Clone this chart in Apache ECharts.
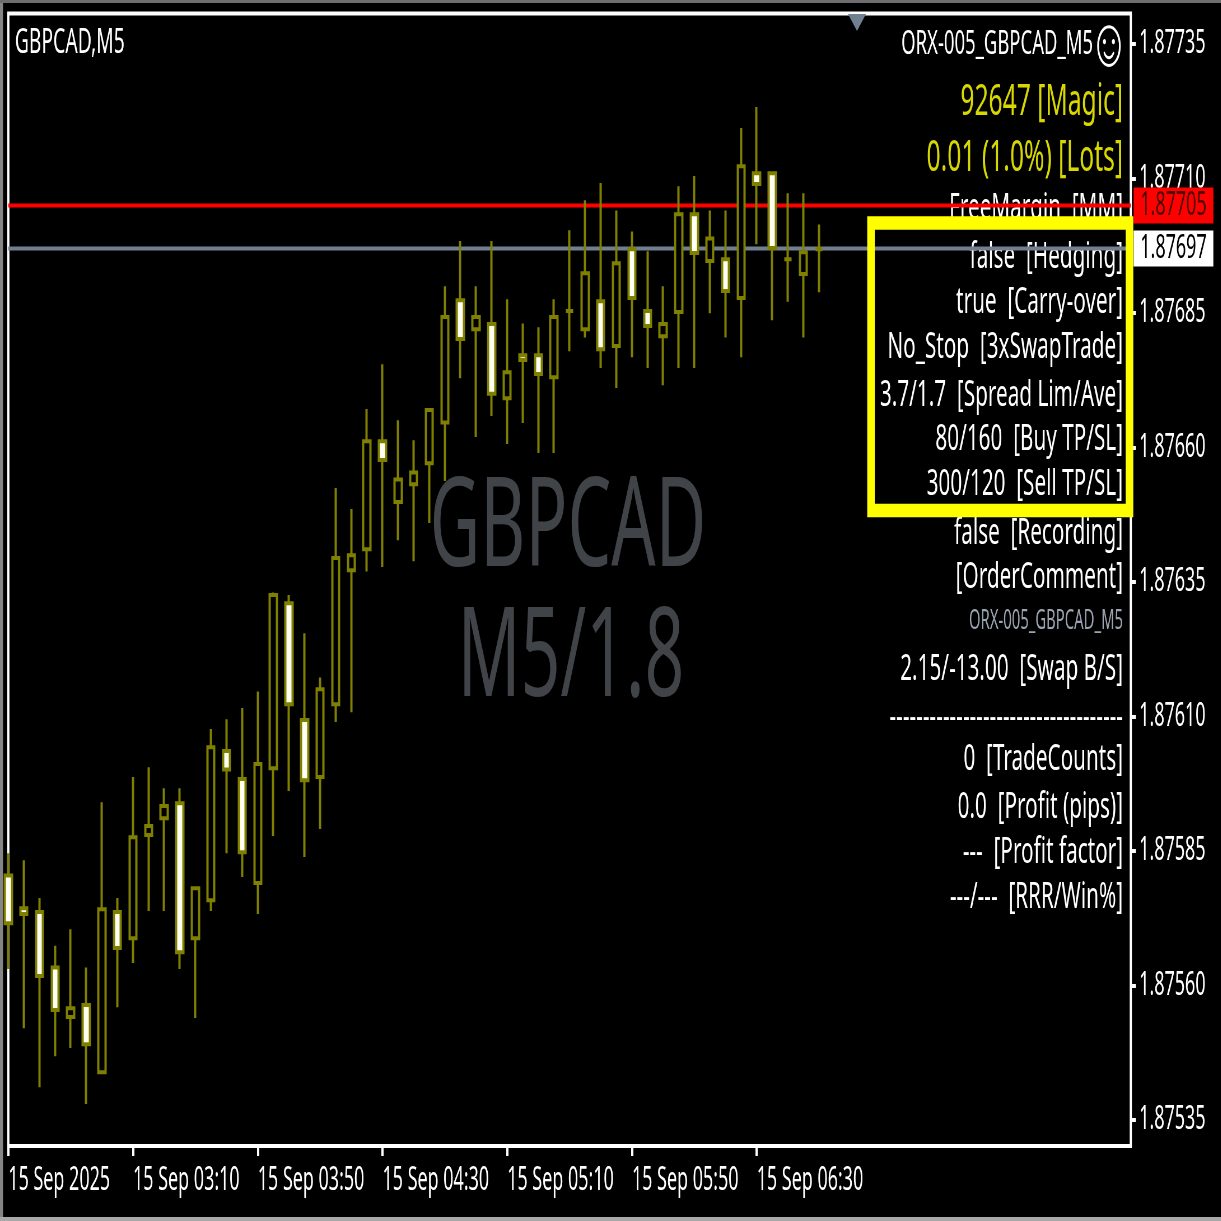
<!DOCTYPE html>
<html>
<head>
<meta charset="utf-8">
<title>GBPCAD,M5</title>
<script src="https://cdn.jsdelivr.net/npm/echarts@6/dist/echarts.min.js"></script>
<style>
html,body{margin:0;padding:0;background:#000;overflow:hidden;width:1221px;height:1221px}
/* the reference is a screenshot stretched tall, so the whole chart is squeezed sideways */
#main{width:2180px;height:1221px;transform:scaleX(0.56);transform-origin:0 0;filter:blur(0.5px)}
</style>
</head>
<body>
<div id="main"></div>
<script>
var S=0.56;
var FONT='"Noto Sans"';

var opens=[1.875805,1.875744,1.875737,1.875634,1.875542,1.875564,1.875439,1.875737,1.875688,1.875880,
1.875911,1.875939,1.875688,1.875759,1.876036,1.875984,1.875791,1.876004,1.876311,1.876094,
1.875988,1.876123,1.876372,1.876411,1.876612,1.876499,1.876532,1.876571,1.876647,1.876874,
1.876820,1.876830,1.876692,1.876772,1.876772,1.876731,1.876854,1.876820,1.876872,1.876789,
1.876969,1.876854,1.876807,1.876852,1.877034,1.876947,1.876950,1.876878,1.877110,1.877110,
1.876950,1.876923,1.876969];
var closes=[1.875716,1.875733,1.875618,1.875555,1.875558,1.875491,1.875742,1.875670,1.875876,1.875897,
1.875934,1.875662,1.875781,1.876043,1.876002,1.875848,1.876012,1.876326,1.876123,1.875982,
1.876151,1.876395,1.876400,1.876612,1.876577,1.876541,1.876554,1.876670,1.876843,1.876802,
1.876843,1.876700,1.876740,1.876763,1.876737,1.876843,1.876854,1.876924,1.876783,1.876943,
1.876878,1.876826,1.876830,1.877034,1.876962,1.876989,1.876891,1.877123,1.877090,1.876971,
1.876950,1.876963,1.876969];
var highs=[1.875846,1.875833,1.875763,1.875674,1.875705,1.875634,1.875941,1.875763,1.875988,1.876006,
1.875967,1.875967,1.875781,1.876077,1.876095,1.876116,1.876147,1.876331,1.876326,1.876255,
1.876173,1.876525,1.876486,1.876672,1.876755,1.876651,1.876614,1.876670,1.876900,1.876984,
1.876900,1.876984,1.876876,1.876831,1.876824,1.876876,1.877004,1.877060,1.877092,1.877041,
1.877002,1.876965,1.876900,1.877086,1.877105,1.877041,1.877041,1.877194,1.877233,1.877110,
1.877073,1.877073,1.877015];
var lows=[1.875631,1.875521,1.875411,1.875469,1.875484,1.875380,1.875439,1.875560,1.875642,1.875739,
1.875739,1.875631,1.875540,1.875739,1.875846,1.875802,1.875733,1.875878,1.875962,1.875839,
1.875891,1.876090,1.876108,1.876370,1.876378,1.876428,1.876389,1.876460,1.876538,1.876729,
1.876620,1.876659,1.876607,1.876646,1.876590,1.876590,1.876779,1.876805,1.876748,1.876711,
1.876768,1.876748,1.876716,1.876748,1.876748,1.876850,1.876805,1.876768,1.876978,1.876837,
1.876871,1.876805,1.876889];

var priceTicks=[1.87535,1.87560,1.87585,1.87610,1.87635,1.87660,1.87685,1.87710,1.87735];
var timeTicks=['15 Sep 2025','15 Sep 03:10','15 Sep 03:50','15 Sep 04:30','15 Sep 05:10','15 Sep 05:50','15 Sep 06:30'];
var askPrice=1.87705;
var bidPrice=1.87697;

var panelText=['ORX-005_GBPCAD_M5','92647 [Magic]','0.01 (1.0%) [Lots]','FreeMargin  [MM]','false  [Hedging]',
'true  [Carry-over]','No_Stop  [3xSwapTrade]','3.7/1.7  [Spread Lim/Ave]','80/160  [Buy TP/SL]','300/120  [Sell TP/SL]',
'false  [Recording]','[OrderComment]','ORX-005_GBPCAD_M5','2.15/-13.00  [Swap B/S]','-----------------------------------',
'0  [TradeCounts]','0.0  [Profit (pips)]','---  [Profit factor]','---/---  [RRR/Win%]'];
var panelY=[45,102,158,208,257,302,347,395,439,484,533,577,621,669,717,759,807,852,897];

// category axis: every 8th bar carries a time label, 73 slots so the right side stays empty
var categories=[];
for(var i=0;i<73;i++){
    categories.push(i%8==0&&timeTicks[i/8]?timeTicks[i/8]:'');
}
var candles=[];
for(var j=0;j<opens.length;j++){
    candles.push([opens[j],closes[j],lows[j],highs[j]]);
}
function hasTime(index){
    return categories[index]!='';
}

var graphics=[];
function addText(text,x,y,size,color,align,z){
    graphics.push({type:'text',z:z,silent:true,style:{text:text,x:x/S,y:y,align:align,verticalAlign:'middle',fill:color,font:size+'px '+FONT}});
}
function addRect(x,y,w,h,color){
    graphics.push({type:'rect',z:60,silent:true,shape:{x:x/S,y:y,width:w/S,height:h},style:{fill:color}});
}

// watermark behind the candles
addText('GBPCAD',568,531,124,'#404347','center',0);
addText('M5/1.8',571,661,124,'#404347','center',0);

// info panel on the right
for(var n=0;n<panelText.length;n++){
    var color='#ffffff',size=37,right=1123;
    if(n==1||n==2){color='#d8d800';size=44;}
    if(n==12){color='#9aa3b0';size=26.5;}
    if(n==0){right=1093;size=33;}
    addText(panelText[n],right,panelY[n],size,color,'right',0);
}
addText('\u263A',1129,46,70,'#ffffff','right',0);

// highlight box drawn over the screenshot
graphics.push({type:'rect',z:50,silent:true,shape:{x:871/S,y:223,width:258.5/S,height:287.5},style:{fill:'none',stroke:'#ffff00',lineWidth:13.5}});
// shift marker at the top of the chart
graphics.push({type:'polygon',z:5,silent:true,shape:{points:[[848/S,14],[866/S,14],[857/S,31]]},style:{fill:'#708090'}});
// window edges
addRect(0,0,3,1221,'#858585');
addRect(0,0,1221,3,'#6e6e6e');
addRect(0,1217,1221,4,'#a8a8a8');

function priceLine(price,lineColor,textColor,boxColor){
    return {
        type:'line',
        z:1,
        silent:true,
        showSymbol:false,
        data:[[0,price],[72,price]],
        lineStyle:{color:lineColor,width:4},
        endLabel:{
            show:true,
            distance:5,
            formatter:price.toFixed(5),
            color:textColor,
            backgroundColor:boxColor,
            fontFamily:FONT,
            fontSize:32,
            lineHeight:36,
            padding:[0,12]
        }
    };
}

var myChart=echarts.init(document.getElementById('main'));
var option={
    animation:false,
    backgroundColor:'#000',
    title:{
        text:'GBPCAD,M5',
        left:12/S,
        top:21,
        textStyle:{color:'#fff',fontFamily:FONT,fontSize:34.5,fontWeight:'normal'}
    },
    grid:{
        show:true,
        left:8.3/S,
        right:(1221-1131)/S,
        top:13.5,
        bottom:1221-1146,
        borderColor:'#fff',
        borderWidth:4,
        backgroundColor:'transparent'
    },
    xAxis:{
        type:'category',
        data:categories,
        boundaryGap:false,
        axisLine:{show:false},
        axisTick:{show:true,interval:hasTime,length:10,lineStyle:{color:'#fff',width:4}},
        axisLabel:{show:true,interval:hasTime,color:'#fff',fontFamily:FONT,fontSize:32,align:'left',margin:19},
        splitLine:{show:false}
    },
    yAxis:{
        type:'value',
        position:'right',
        min:1.875302,
        max:1.877407,
        axisLine:{show:false},
        axisTick:{show:true,length:9,customValues:priceTicks,lineStyle:{color:'#fff',width:4}},
        axisLabel:{show:true,margin:15,color:'#fff',fontFamily:FONT,fontSize:32,customValues:priceTicks,padding:[8,0,0,0],
            formatter:function(v){return v.toFixed(5);}},
        splitLine:{show:false}
    },
    series:[
        priceLine(bidPrice,'#708090','#000','#fff'),
        priceLine(askPrice,'#ff0000','#4a0800','#ff0000'),
        {
            type:'candlestick',
            z:3,
            data:candles,
            barWidth:13,
            clip:true,
            itemStyle:{
                color:'#000',
                color0:'#fffff4',
                colorDoji:'#808000',
                borderColor:'#808000',
                borderColor0:'#808000',
                borderColorDoji:'#808000',
                borderWidth:4
            }
        }
    ],
    graphic:graphics
};
myChart.setOption(option);
</script>
</body>
</html>
